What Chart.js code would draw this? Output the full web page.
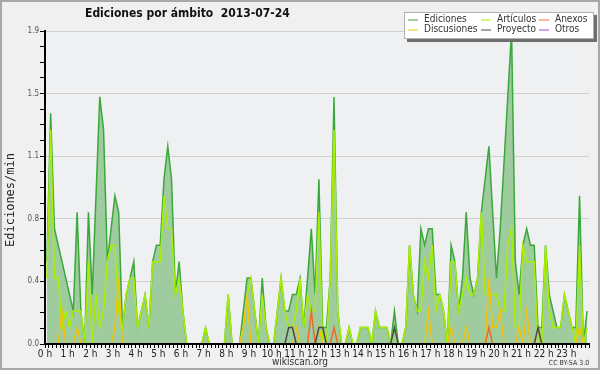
<!DOCTYPE html>
<html>
<head>
<meta charset="utf-8">
<script src="https://cdn.jsdelivr.net/npm/chart.js@4"></script>
<style>
    html, body { margin: 0; padding: 0; background: #f0f0f0; }
</style>
</head>
<body>
<canvas id="grafico" width="600" height="370"></canvas>
<script>
// Datos: ediciones por minuto, un valor cada 10 minutos (0 h 00 -> 23 h 50)
var titulo = "Ediciones por ámbito  2013-07-24";
var horas = ["0 h", "1 h", "2 h", "3 h", "4 h", "5 h", "6 h", "7 h", "8 h", "9 h", "10 h", "11 h",
    "12 h", "13 h", "14 h", "15 h", "16 h", "17 h", "18 h", "19 h", "20 h", "21 h", "22 h", "23 h"];
var etiquetasY = ["0.0", "0.4", "0.8", "1.1", "1.5", "1.9"];
var maximoY = 1.9;

var ediciones = [
    0.5, 1.4, 0.7, 0.6, 0.5, 0.4, 0.3, 0.2, 0.8, 0.2, 0, 0.8,
    0.3, 0.9, 1.5, 1.3, 0.5, 0.7, 0.9, 0.8, 0.1, 0.3, 0.4, 0.5,
    0.1, 0.2, 0.3, 0.1, 0.5, 0.6, 0.6, 1.0, 1.2, 1.0, 0.3, 0.5,
    0.2, 0, 0, 0, 0, 0, 0.1, 0, 0, 0, 0, 0,
    0.3, 0, 0, 0, 0.2, 0.4, 0.4, 0.2, 0, 0.4, 0.1, 0,
    0, 0.2, 0.4, 0.2, 0.2, 0.3, 0.3, 0.4, 0.1, 0.4, 0.7, 0.3,
    1.0, 0.1, 0.1, 0.4, 1.5, 0.2, 0, 0, 0.1, 0, 0, 0.1,
    0.1, 0.1, 0, 0.2, 0.1, 0.1, 0.1, 0, 0.2, 0, 0, 0.1,
    0.6, 0.3, 0.2, 0.7, 0.6, 0.7, 0.7, 0.3, 0.3, 0.2, 0, 0.6,
    0.5, 0.2, 0.4, 0.8, 0.4, 0.3, 0.4, 0.8, 1.0, 1.2, 0.8, 0.4,
    0.7, 1.1, 1.5, 1.9, 0.5, 0.3, 0.6, 0.7, 0.6, 0.6, 0.1, 0.1,
    0.6, 0.3, 0.2, 0.1, 0.1, 0.3, 0.2, 0.1, 0.1, 0.9, 0, 0.2
];
var articulos = [
    0.4, 1.3, 0.4, 0.4, 0.1, 0.2, 0.1, 0.2, 0.2, 0.2, 0, 0.5,
    0, 0.3, 0.1, 0.2, 0.5, 0.6, 0.6, 0.2, 0.1, 0.3, 0.4, 0.4,
    0.1, 0.2, 0.3, 0.1, 0.5, 0.5, 0.5, 0.9, 0.7, 0.7, 0.3, 0.4,
    0.2, 0, 0, 0, 0, 0, 0.1, 0, 0, 0, 0, 0,
    0.3, 0, 0, 0, 0.1, 0.3, 0.4, 0.2, 0, 0.3, 0.1, 0,
    0, 0.2, 0.4, 0.2, 0.1, 0.1, 0.2, 0.4, 0.1, 0.3, 0.2, 0.2,
    0.8, 0, 0, 0.4, 1.3, 0.2, 0, 0, 0.1, 0, 0, 0.1,
    0.1, 0.1, 0, 0.2, 0.1, 0.1, 0.1, 0, 0.1, 0, 0, 0.1,
    0.6, 0.3, 0.2, 0.2, 0.5, 0.4, 0.6, 0.2, 0.3, 0.2, 0, 0.5,
    0.5, 0.2, 0.3, 0.4, 0.3, 0.3, 0.4, 0.8, 0.3, 0.3, 0.3, 0.3,
    0.2, 0.2, 0.6, 0.7, 0.1, 0.1, 0.6, 0.5, 0.5, 0.5, 0, 0,
    0.6, 0.2, 0.1, 0.1, 0.1, 0.3, 0.2, 0.1, 0, 0.6, 0, 0.1
];
var discusiones = [
    0, 0, 0, 0, 0.2, 0, 0, 0, 0.1, 0, 0, 0,
    0, 0, 0, 0, 0, 0, 0.1, 0.4, 0, 0, 0, 0,
    0, 0, 0, 0, 0, 0, 0, 0, 0, 0, 0, 0,
    0, 0, 0, 0, 0, 0, 0, 0, 0, 0, 0, 0,
    0, 0, 0, 0, 0.1, 0.3, 0, 0, 0, 0, 0, 0,
    0, 0, 0, 0, 0, 0, 0.1, 0, 0, 0, 0, 0,
    0.1, 0, 0, 0, 0, 0, 0, 0, 0, 0, 0, 0,
    0, 0, 0, 0, 0, 0, 0, 0, 0, 0, 0, 0,
    0, 0, 0, 0, 0, 0.2, 0, 0, 0, 0, 0, 0.1,
    0, 0, 0, 0.1, 0, 0, 0, 0, 0, 0.4, 0.1, 0.1,
    0.2, 0, 0, 0, 0, 0.1, 0, 0.2, 0, 0, 0.1, 0,
    0, 0, 0, 0, 0, 0, 0, 0, 0, 0.1, 0, 0
];
var anexos = [
    0, 0, 0, 0, 0, 0, 0, 0, 0, 0, 0, 0,
    0, 0, 0, 0, 0, 0, 0, 0, 0, 0, 0, 0,
    0, 0, 0, 0, 0, 0, 0, 0, 0, 0, 0, 0,
    0, 0, 0, 0, 0, 0, 0, 0, 0, 0, 0, 0,
    0, 0, 0, 0, 0, 0, 0, 0, 0, 0, 0, 0,
    0, 0, 0, 0, 0, 0, 0, 0, 0, 0, 0.2, 0,
    0, 0, 0, 0, 0.1, 0, 0, 0, 0, 0, 0, 0,
    0, 0, 0, 0, 0, 0, 0, 0, 0, 0, 0, 0,
    0, 0, 0, 0, 0, 0, 0, 0, 0, 0, 0, 0,
    0, 0, 0, 0, 0, 0, 0, 0, 0, 0.1, 0, 0,
    0, 0, 0, 0, 0, 0, 0, 0, 0, 0, 0, 0,
    0, 0, 0, 0, 0, 0, 0, 0, 0, 0, 0, 0
];
var proyecto = [
    0, 0, 0, 0, 0, 0, 0, 0, 0, 0, 0, 0,
    0, 0, 0, 0, 0, 0, 0, 0, 0, 0, 0, 0,
    0, 0, 0, 0, 0, 0, 0, 0, 0, 0, 0, 0,
    0, 0, 0, 0, 0, 0, 0, 0, 0, 0, 0, 0,
    0, 0, 0, 0, 0, 0, 0, 0, 0, 0, 0, 0,
    0, 0, 0, 0, 0.1, 0.1, 0, 0, 0, 0, 0, 0,
    0.1, 0.1, 0, 0, 0, 0, 0, 0, 0, 0, 0, 0,
    0, 0, 0, 0, 0, 0, 0, 0, 0.1, 0, 0, 0,
    0, 0, 0, 0, 0, 0, 0, 0, 0, 0, 0, 0,
    0, 0, 0, 0, 0, 0, 0, 0, 0, 0, 0, 0,
    0, 0, 0, 0, 0, 0, 0, 0, 0, 0, 0.1, 0,
    0, 0, 0, 0, 0, 0, 0, 0, 0, 0, 0, 0
];
var otros = [
    0, 0, 0, 0, 0, 0, 0, 0, 0, 0, 0, 0,
    0, 0, 0, 0, 0, 0, 0, 0, 0, 0, 0, 0,
    0, 0, 0, 0, 0, 0, 0, 0, 0, 0, 0, 0,
    0, 0, 0, 0, 0, 0, 0, 0, 0, 0, 0, 0,
    0, 0, 0, 0, 0, 0, 0, 0, 0, 0, 0, 0,
    0, 0, 0, 0, 0, 0, 0, 0, 0, 0, 0, 0,
    0, 0, 0, 0, 0, 0, 0, 0, 0, 0, 0, 0,
    0, 0, 0, 0, 0, 0, 0, 0, 0, 0, 0, 0,
    0, 0, 0, 0, 0, 0, 0, 0, 0, 0, 0, 0,
    0, 0, 0, 0, 0, 0, 0, 0, 0, 0, 0, 0,
    0, 0, 0, 0, 0, 0, 0, 0, 0, 0, 0, 0,
    0, 0, 0, 0, 0, 0, 0, 0, 0, 0, 0, 0
];

// cada punto va en el centro de su tramo de 10 minutos
function puntos(valores) {
    return valores.map(function (v, i) {
        return { x: i + 0.5, y: v };
    });
}

function serie(nombre, valores, color, orden) {
    return {
        label: nombre,
        data: puntos(valores),
        borderColor: color,
        backgroundColor: color,
        borderWidth: 1.5,
        fill: false,
        order: orden
    };
}

var datasets = [
    {
        label: "Ediciones",
        data: puntos(ediciones),
        borderColor: "#3aa83a",
        backgroundColor: "#9ecc9e",
        borderWidth: 1.5,
        fill: "origin",
        order: 10
    },
    serie("Artículos", articulos, "#aaee00", 6),
    serie("Anexos", anexos, "#f26a2a", 3),
    serie("Discusiones", discusiones, "#f4c20d", 4),
    serie("Proyecto", proyecto, "#4a4a4a", 2),
    serie("Otros", otros, "#9a44e6", 1)
];

// fondo, marco y area del grafico
var fondo = {
    id: "fondo",
    beforeDraw: function (chart) {
        var ctx = chart.ctx, a = chart.chartArea;
        ctx.save();
        ctx.fillStyle = "#f0f0f0";
        ctx.fillRect(0, 0, chart.width, chart.height);
        ctx.strokeStyle = "#a8a8a8";
        ctx.lineWidth = 2;
        ctx.strokeRect(1, 1, chart.width - 2, chart.height - 2);
        ctx.fillStyle = "#eef0f2";
        ctx.fillRect(a.left, a.top, a.right - a.left, a.bottom - a.top);
        ctx.restore();
    }
};

// ejes negros por encima de las lineas en cero
var ejes = {
    id: "ejes",
    afterDatasetsDraw: function (chart) {
        var ctx = chart.ctx, a = chart.chartArea;
        ctx.save();
        ctx.strokeStyle = "#000";
        ctx.lineWidth = 2;
        ctx.beginPath();
        ctx.moveTo(a.left, a.top - 1);
        ctx.lineTo(a.left, a.bottom);
        ctx.lineTo(a.right + 1, a.bottom);
        ctx.stroke();
        ctx.restore();
    }
};

// titulo, leyenda y textos
var textos = {
    id: "textos",
    afterDraw: function (chart) {
        var ctx = chart.ctx;
        ctx.save();
        ctx.fillStyle = "#111";
        ctx.font = "bold 12px 'DejaVu Sans Condensed', 'DejaVu Sans'";
        ctx.textBaseline = "middle";
        ctx.textAlign = "left";
        ctx.fillText(titulo, 85, 14);

        ctx.save();
        ctx.translate(11, 200);
        ctx.rotate(-Math.PI / 2);
        ctx.textAlign = "center";
        ctx.font = "12px 'DejaVu Sans Mono'";
        ctx.fillStyle = "#222";
        ctx.fillText("Ediciones/min", 0, 0);
        ctx.restore();

        ctx.textAlign = "center";
        ctx.font = "10px 'DejaVu Sans Condensed', 'DejaVu Sans'";
        ctx.fillStyle = "#333";
        ctx.fillText("wikiscan.org", 300, 362);
        ctx.font = "7px 'DejaVu Sans Condensed', 'DejaVu Sans'";
        ctx.fillText("CC BY-SA 3.0", 569, 363);

        // leyenda
        var lx = 404, ly = 12, lw = 190, lh = 27;
        ctx.fillStyle = "#6e6e6e";
        ctx.fillRect(lx + 3, ly + 3, lw, lh);
        ctx.fillStyle = "#ffffff";
        ctx.fillRect(lx, ly, lw, lh);
        ctx.strokeStyle = "#b0b0b0";
        ctx.lineWidth = 1;
        ctx.strokeRect(lx + 0.5, ly + 0.5, lw - 1, lh - 1);

        var columnas = [408, 481, 539];
        var filas = [19.5, 29.5];
        ctx.font = "10px 'DejaVu Sans Condensed', 'DejaVu Sans'";
        ctx.textAlign = "left";
        chart.data.datasets.forEach(function (ds, i) {
            var x = columnas[i % 3], y = filas[Math.floor(i / 3)];
            ctx.strokeStyle = ds.borderColor;
            ctx.lineWidth = 1;
            ctx.beginPath();
            ctx.moveTo(x, y + 0.5);
            ctx.lineTo(x + 10, y + 0.5);
            ctx.stroke();
            ctx.fillStyle = "#333";
            ctx.fillText(ds.label, x + 16, y);
        });
        ctx.restore();
    }
};

var marcasX = [];
for (var k = 0; k <= 144; k++) marcasX.push(k);
var marcasY = [];
for (var j = 0; j <= 20; j++) marcasY.push(maximoY * j / 20);

var grafico = new Chart(document.getElementById("grafico"), {
    type: "line",
    data: { datasets: datasets },
    options: {
        responsive: false,
        devicePixelRatio: 1,
        animation: false,
        events: [],
        layout: { padding: { left: 0, top: 31, right: 11, bottom: 0 } },
        elements: {
            point: { radius: 0 },
            line: { tension: 0 }
        },
        plugins: {
            legend: { display: false },
            title: { display: false },
            tooltip: { enabled: false }
        },
        scales: {
            x: {
                type: "linear",
                min: 0,
                max: 144,
                afterBuildTicks: function (s) {
                    s.ticks = marcasX.map(function (v) { return { value: v }; });
                },
                afterFit: function (s) { s.height = 26; },
                grid: {
                    drawOnChartArea: false,
                    tickLength: 4,
                    tickColor: "#000",
                    tickWidth: 1
                },
                border: { color: "#000", width: 2 },
                ticks: {
                    autoSkip: false,
                    maxRotation: 0,
                    padding: 0,
                    color: "#222",
                    font: { family: "'DejaVu Sans Condensed', 'DejaVu Sans'", size: 10 },
                    callback: function (v) {
                        return (v % 6 === 0 && v < 144) ? horas[v / 6] : "";
                    }
                }
            },
            y: {
                min: 0,
                max: maximoY,
                afterBuildTicks: function (s) {
                    s.ticks = marcasY.map(function (v) { return { value: v }; });
                },
                afterFit: function (s) { s.width = 45; },
                grid: {
                    color: function (c) {
                        return c.index % 4 === 0 && c.index > 0 ? "#cfcfcf" : "rgba(0,0,0,0)";
                    },
                    lineWidth: 1,
                    tickLength: 5,
                    tickColor: "#000"
                },
                border: { color: "#000", width: 2 },
                ticks: {
                    autoSkip: false,
                    padding: 1,
                    color: "#555",
                    font: { family: "'DejaVu Sans Condensed', 'DejaVu Sans'", size: 8 },
                    callback: function (v, i) {
                        return i % 4 === 0 ? etiquetasY[i / 4] : "";
                    }
                }
            }
        }
    },
    plugins: [fondo, ejes, textos]
});
</script>
</body>
</html>
